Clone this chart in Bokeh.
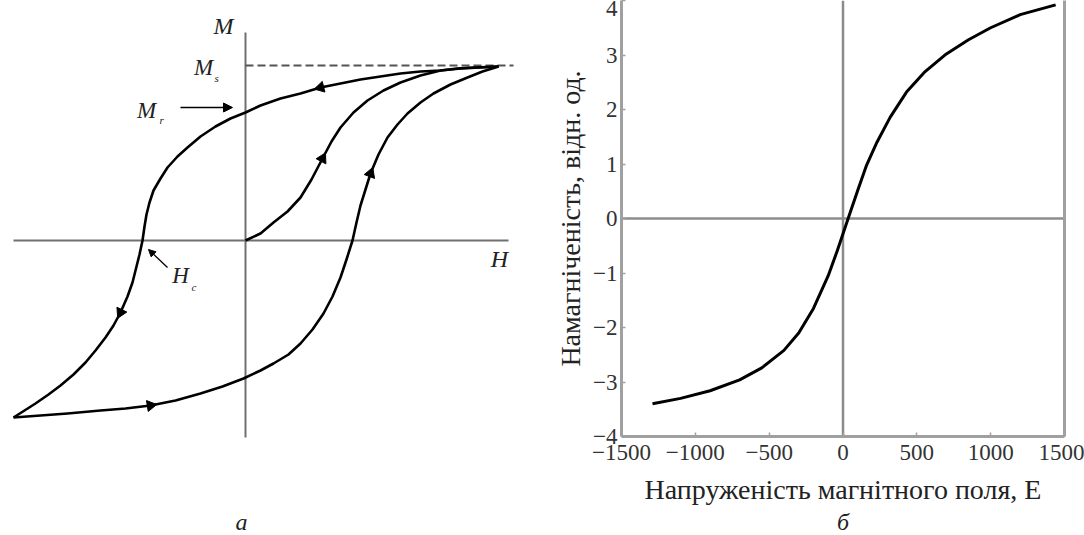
from bokeh.plotting import figure
from bokeh.layouts import row, column
from bokeh.models import Range1d, LinearAxis, FixedTicker, Arrow, NormalHead
from bokeh.core.properties import value
from bokeh.embed import file_html
from bokeh.resources import INLINE
import math

# ---------------- panel "а": schematic hysteresis loop (schematic units; Ms = 174, H tip = 253)
upper_H = [253, 235, 215, 195, 175, 155, 135, 115, 95, 75, 55, 35, 15, 0, -15, -30, -45, -58, -68,
           -78, -85, -92, -96, -99, -101, -103, -106, -109, -113, -118, -125, -132, -140, -150,
           -160, -172, -185, -197, -210, -221, -232]
upper_M = [174, 173, 172, 170, 169, 167, 164, 161, 157, 153, 147, 142, 135, 128, 122, 114, 104, 93,
           84, 73, 62, 50, 38, 26, 14, 0, -14, -26, -42, -56, -72, -85, -97, -110, -122, -134,
           -145, -154, -163, -170, -177]
lower_H = [-232, -205, -178, -145, -120, -95, -70, -45, -23, -2, 15, 28, 43, 55, 67, 78, 87, 95,
           101, 107, 111, 115, 120, 125, 133, 142, 152, 162, 175, 188, 205, 222, 237, 253]
lower_M = [-177, -175, -173, -170, -168, -165, -160, -153, -146, -138, -130, -123, -114, -103, -89,
           -73, -56, -37, -19, 0, 18, 35, 51, 67, 86, 103, 116, 127, 138, 147, 156, 163, 169, 174]
virgin_H = [0, 15, 28, 42, 55, 66, 77, 86, 95, 108, 122, 138, 155, 175, 195, 212, 228, 253]
virgin_M = [0, 7, 18, 29, 43, 61, 82, 99, 113, 128, 140, 150, 158, 165, 170, 172, 173, 174]
H_axis_extent = [-232, 263]
M_axis_extent = [-197, 208]
Ms_level = 175
Ms_line_extent = [0, 268]
# where the direction arrows sit (index into each branch)
arrow_on_upper = [9, 30]
arrow_on_lower = [5, 23]
arrow_on_virgin = [6]

# ---------------- panel "б": magnetisation curve
field_E = [-1290, -1100, -900, -700, -550, -400, -300, -200, -100, -40, 0, 40, 100, 160, 230,
           320, 430, 550, 700, 850, 1000, 1200, 1440]
magnetization = [-3.40, -3.30, -3.16, -2.96, -2.74, -2.42, -2.10, -1.65, -1.05, -0.60, -0.28,
                 0.04, 0.52, 0.98, 1.40, 1.86, 2.32, 2.68, 3.02, 3.28, 3.50, 3.74, 3.92]
x_ticks = [-1500, -1000, -500, 0, 500, 1000, 1500]
x_tick_labels = ["\u22121500", "\u22121000", "\u2212500", "0", "500", "1000", "1500"]
y_ticks = [-4, -3, -2, -1, 0, 1, 2, 3, 4]
y_tick_labels = ["\u22124", "\u22123", "\u22122", "\u22121", "0", "1", "2", "3", "4"]
x_title = "Напруженість магнітного поля, Е"
y_title = "Намагніченість, відн. од."

SERIF = "Liberation Serif"
GRAY = "#a0a0a0"
TOTAL_H = 535


def lab(p, x, y, t, size, align="center", baseline="middle", style="italic"):
    p.text([x], [y], text=[t], text_font=value(SERIF), text_font_size=size,
           text_font_style=style, text_align=align, text_baseline=baseline,
           text_color="#222222")


# ================= left figure =================
W1 = 530
p1 = figure(width=W1, height=TOTAL_H, output_backend="svg", toolbar_location=None,
            x_axis_type=None, y_axis_type=None,
            x_range=Range1d(-245, 285), y_range=Range1d(-295, 240), min_border=0)
p1.outline_line_color = None
p1.grid.visible = False

p1.line(H_axis_extent, [0, 0], line_color="#707070", line_width=2)
p1.line([0, 0], M_axis_extent, line_color="#707070", line_width=2)
p1.line(Ms_line_extent, [Ms_level, Ms_level], line_color="#555555", line_width=2, line_dash="8 4")

for hx, my in ((upper_H, upper_M), (lower_H, lower_M), (virgin_H, virgin_M)):
    p1.line(hx, my, line_color="black", line_width=2.6, line_join="round")

ax_, ay_, aang = [], [], []
for hx, my, idxs in ((upper_H, upper_M, arrow_on_upper), (lower_H, lower_M, arrow_on_lower),
                     (virgin_H, virgin_M, arrow_on_virgin)):
    for i in idxs:
        dx = hx[i + 1] - hx[i - 1]
        dy = my[i + 1] - my[i - 1]
        ax_.append(hx[i]); ay_.append(my[i]); aang.append(math.atan2(-dx, dy))
p1.scatter(ax_, ay_, marker="triangle", size=11, color="black", angle=aang)

lab(p1, -22, 215, "M", "24px")
lab(p1, -42, 173, "M", "23px")
lab(p1, -31, 163, "s", "11px", align="left")
lab(p1, -99, 130, "M", "23px")
lab(p1, -86, 121, "r", "11px", align="left")
lab(p1, -65, -35, "H", "23px")
lab(p1, -54, -46, "c", "11px", align="left")
lab(p1, 254, -18, "H", "24px")
lab(p1, -4, -281, "a", "24px")

p1.add_layout(Arrow(x_start=-65, y_start=133, x_end=-13, y_end=133,
                    line_color="black", line_width=1.5,
                    end=NormalHead(size=9, fill_color="black", line_color="black")))
p1.add_layout(Arrow(x_start=-78, y_start=-27, x_end=-97, y_end=-9,
                    line_color="black", line_width=1.3,
                    end=NormalHead(size=7, fill_color="black", line_color="black")))

# ================= right figure =================
W2 = 554
H2 = 472
p2 = figure(width=W2, height=H2, output_backend="svg", toolbar_location=None,
            x_range=Range1d(-1500, 1500), y_range=Range1d(-4, 4),
            min_border_left=91, min_border_right=20, min_border_top=0,
            min_border_bottom=H2 - 436)
p2.outline_line_color = None
p2.grid.visible = False

for ax in (p2.xaxis[0], p2.yaxis[0]):
    ax.axis_line_color = GRAY
    ax.axis_line_width = 3
    ax.major_tick_line_color = GRAY
    ax.major_tick_line_width = 1.5
    ax.major_tick_in = 4
    ax.major_tick_out = 0
    ax.minor_tick_line_color = None
    ax.major_label_text_font = SERIF
    ax.major_label_text_font_size = "23px"
    ax.major_label_text_color = "#333333"
    ax.axis_label_text_font = SERIF
    ax.axis_label_text_font_size = "28px"
    ax.axis_label_text_font_style = "normal"
    ax.axis_label_text_color = "#222222"

p2.xaxis.ticker = FixedTicker(ticks=x_ticks)
p2.xaxis.major_label_overrides = dict(zip(x_ticks, x_tick_labels))
p2.yaxis.ticker = FixedTicker(ticks=y_ticks)
p2.yaxis.major_label_overrides = dict(zip(y_ticks, y_tick_labels))
p2.xaxis.major_label_standoff = 8
p2.yaxis.major_label_standoff = 4
p2.yaxis.axis_label = y_title
p2.yaxis.axis_label_standoff = 4

right = LinearAxis(ticker=FixedTicker(ticks=[]), axis_line_color=GRAY, axis_line_width=3,
                   major_label_text_font_size="0px", major_tick_line_color=None,
                   minor_tick_line_color=None)
p2.add_layout(right, "right")

p2.line([0, 0], [-4, 4], line_color="#8c8c8c", line_width=2.5)
p2.line([-1500, 1500], [0, 0], line_color="#8c8c8c", line_width=2.5)
p2.line(field_E, magnetization, line_color="black", line_width=3, line_join="round")

# ---- caption strip under panel "б" (axis title + panel letter)
H3 = TOTAL_H - H2
p3 = figure(width=W2, height=H3, output_backend="svg", toolbar_location=None,
            x_axis_type=None, y_axis_type=None,
            x_range=Range1d(-1500, 1500), y_range=Range1d(0, H3),
            min_border_left=91, min_border_right=20, min_border_top=0, min_border_bottom=0)
p3.outline_line_color = None
p3.grid.visible = False
lab(p3, 0, 46, x_title, "28px", style="normal")
lab(p3, 0, 14, "б", "24px")

layout = row(p1, column(p2, p3, spacing=0), spacing=0)
open("out.html", "w").write(file_html(layout, INLINE))
